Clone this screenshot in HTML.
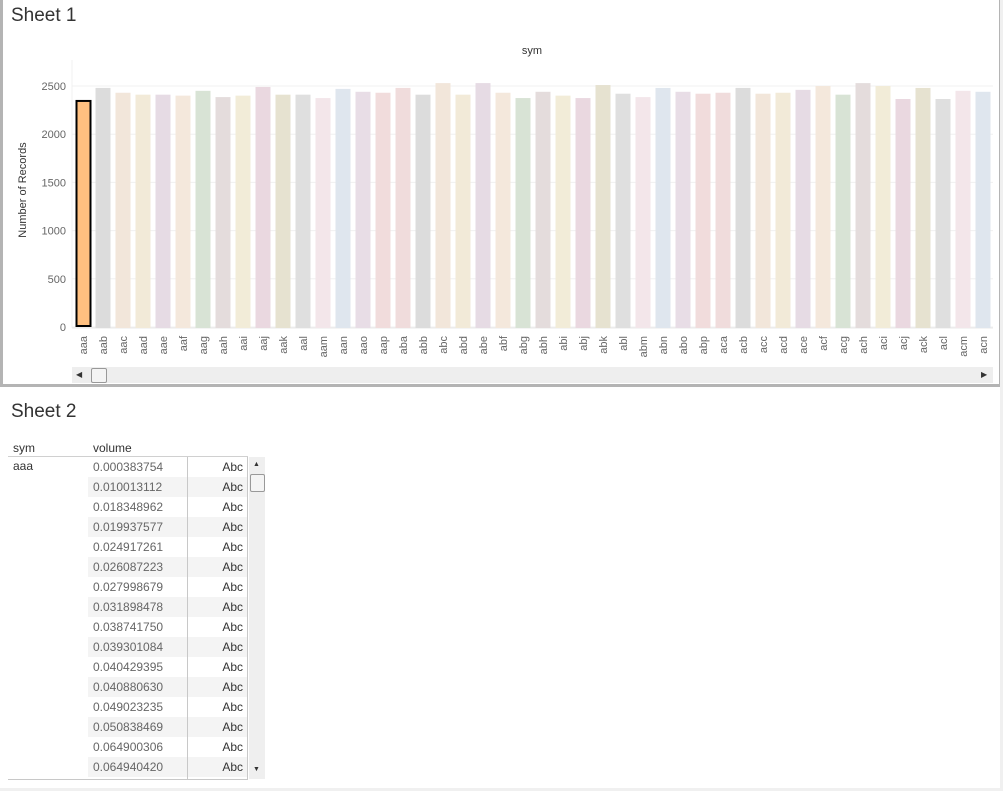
<!DOCTYPE html>
<html><head><meta charset="utf-8"><style>
body{margin:0;width:1003px;height:791px;background:#fff;font-family:"Liberation Sans",sans-serif;position:relative;overflow:hidden}
.abs{position:absolute}
.title{font-size:19px;color:#333}
.row{position:absolute;left:88px;width:160px;height:20px;font-size:12px;color:#666}
</style></head><body>
<div class="abs" style="left:0;top:0;width:996px;height:384px;border:3px solid #b4b4b4;border-top:none"></div>
<div class="abs" style="left:1000px;top:0;width:3px;height:791px;background:#f0f0f0"></div>
<div class="abs" style="left:0;top:788px;width:1003px;height:3px;background:#f0f0f0"></div>
<div class="abs title" style="left:11px;top:5px">Sheet 1</div>
<svg class="abs" style="left:0;top:0" width="1000" height="390" id="chart"></svg>
<div class="abs title" style="left:11px;top:401px">Sheet 2</div>
<div class="abs" style="left:13px;top:441px;font-size:12px;color:#333">sym</div>
<div class="abs" style="left:93px;top:441px;font-size:12px;color:#333">volume</div>
<div class="abs" style="left:8px;top:456px;width:240px;height:1px;background:#d0d0d0"></div>
<div class="abs" style="left:13px;top:459px;font-size:12px;color:#333">aaa</div>
<div id="rows"></div>
<div class="abs" style="left:187px;top:457px;width:1px;height:323px;background:#c8c8c8"></div>
<div class="abs" style="left:247px;top:457px;width:1px;height:323px;background:#c8c8c8"></div>
<div class="abs" style="left:8px;top:779px;width:240px;height:1px;background:#c8c8c8"></div>
<div class="abs" style="left:249px;top:457px;width:16px;height:322px;background:#efefef">
 <div class="abs" style="left:4px;top:4px;font-size:7px;color:#333">▲</div>
 <div class="abs" style="left:1px;top:17px;width:13px;height:16px;border:1px solid #999;background:#f4f4f4;border-radius:2px"></div>
 <div class="abs" style="left:4px;top:309px;font-size:7px;color:#333">▼</div>
</div>
<div class="abs" style="left:72px;top:367px;width:921px;height:16px;background:#eee">
 <div class="abs" style="left:4px;top:3px;font-size:8px;color:#333">◀</div>
 <div class="abs" style="left:19px;top:1px;width:14px;height:13px;border:1px solid #999;background:#f4f4f4;border-radius:2px"></div>
 <div class="abs" style="left:909px;top:3px;font-size:8px;color:#333">▶</div>
</div>
<script>
const categories=["aaa","aab","aac","aad","aae","aaf","aag","aah","aai","aaj","aak","aal","aam","aan","aao","aap","aba","abb","abc","abd","abe","abf","abg","abh","abi","abj","abk","abl","abm","abn","abo","abp","aca","acb","acc","acd","ace","acf","acg","ach","aci","acj","ack","acl","acm","acn"];
const records=[2345,2480,2430,2410,2410,2400,2450,2385,2400,2490,2410,2410,2375,2470,2440,2430,2480,2410,2530,2410,2530,2430,2375,2440,2400,2375,2510,2420,2385,2480,2440,2420,2430,2480,2420,2430,2460,2500,2410,2530,2500,2365,2480,2365,2450,2440];
const yTicks=[0,500,1000,1500,2000,2500];
const volumes=["0.000383754","0.010013112","0.018348962","0.019937577","0.024917261","0.026087223","0.027998679","0.031898478","0.038741750","0.039301084","0.040429395","0.040880630","0.049023235","0.050838469","0.064900306","0.064940420"];
const palette=["#dcdcdc","#f2e6da","#f2ead8","#e6dbe4","#f4e8dc","#d8e3d5","#e4dcdc","#f2ecd8","#ead8e0","#e6e2d0","#dfdfdf","#f3e6ea","#dfe6ee","#e8dde6","#f1dcdc","#f0dcdc"];
const NS="http://www.w3.org/2000/svg";
const svg=document.getElementById('chart');
const y0=327,yScale=241/2500;
const y=v=>y0-v*yScale;
const x=i=>83+i*20;
function mk(t,a){const e=document.createElementNS(NS,t);for(const k in a)e.setAttribute(k,a[k]);svg.appendChild(e);return e;}
yTicks.forEach(t=>{
 const g=mk('line',{x1:72,x2:993,y1:y(t),y2:y(t),stroke:'#f0f0f0'});
 
 
 const l=mk('text',{x:66,y:y(t)+4,'text-anchor':'end','font-size':11,fill:'#666'});
 l.textContent=t;
 
 
});
mk('line',{x1:72,x2:72,y1:60,y2:328,stroke:'#f0f0f0'});
mk('line',{x1:72,x2:993,y1:328,y2:328,stroke:'#e8e8e8'});
categories.forEach((c,i)=>{
 const v=records[i];
 const sel=i===0;
 const r=mk('rect',{x:x(i)-7.5+(sel?1:0),y:y(v),width:sel?14:15,height:y0-y(v)+(sel?-1:1),fill:sel?'#ffc080':palette[(i-1+16)%16],stroke:sel?'#000':'none','stroke-width':sel?2:0});
 
 
 const t=mk('text',{transform:`translate(${x(i)+4},336) rotate(-90)`,'text-anchor':'end','font-size':11,fill:'#666'});
 t.textContent=c;
 
 
});
const xt=mk('text',{x:532,y:54,'text-anchor':'middle','font-size':11,fill:'#333'});xt.textContent='sym';


const yt=mk('text',{transform:'translate(26,190) rotate(-90)','text-anchor':'middle','font-size':11,fill:'#333'});yt.textContent='Number of Records';


const rows=document.getElementById('rows');
volumes.forEach((v,i)=>{
 const d=document.createElement('div');
 d.className='row';
 d.style.top=(457+i*20)+'px';
 if(i%2===1)d.style.background='#f4f4f4';
 d.innerHTML=`<span style="position:absolute;left:5px;top:3px">${v}</span><span style="position:absolute;right:5px;top:3px;color:#333">Abc</span>`;
 
 
 rows.appendChild(d);
});
</script>
</body></html>
